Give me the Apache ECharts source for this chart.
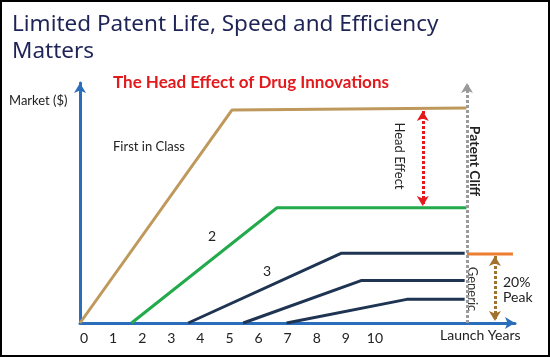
<!DOCTYPE html>
<html>
<head>
<meta charset="utf-8">
<script src="https://cdn.jsdelivr.net/npm/echarts@6/dist/echarts.min.js"></script>
<style>
html,body{margin:0;padding:0;background:#fff;}
#chart{width:550px;height:357px;}
</style>
</head>
<body>
<div id="chart"></div>
<script>
// ---- data (launch year, market index) ----
const xTickLabels = [0, 1, 2, 3, 4, 5, 6, 7, 8, 9, 10];
const firstInClass = [[0, 0], [5.22, 100], [13.28, 101]];
const secondEntrant = [[1.77, 0], [6.77, 54.1], [13.28, 54.1]];
const thirdEntrant = [[3.72, 0], [8.97, 32.7], [13.22, 32.7]];
const fourthEntrant = [[5.61, 0], [9.66, 19.9], [13.22, 19.9]];
const fifthEntrant = [[7.10, 0], [11.23, 11.1], [13.22, 11.1]];
const genericPeak = [[13.3, 32.4], [14.88, 32.4]];
const patentCliff = [[13.3, 0], [13.3, 112.7]];
const headEffect = [[11.78, 99.5], [11.78, 54.9]];
const peakDrop = [[14.26, 31.5], [14.26, 0.9]];

const FONT = 'Lato, "Noto Sans", sans-serif';
const chart = echarts.init(document.getElementById('chart'), null, {renderer: 'canvas'});

function lineSeries(data, color) {
  return {
    type: 'line', data: data, showSymbol: false, symbol: 'none',
    lineStyle: {color: color, width: 3}, silent: true, animation: false, z: 3
  };
}
function arrowSeries(pts, color, syms, dash, z) {
  return {
    type: 'line', data: [], silent: true, animation: false, z: z || 2,
    markLine: {
      silent: true, animation: false, symbol: syms, symbolSize: [9, 10],
      label: {show: false}, clip: false,
      lineStyle: {color: color, width: 3, type: dash},
      emphasis: {disabled: true},
      data: [[{coord: pts[0]}, {coord: pts[1]}]]
    }
  };
}
function txt(text, x, y, opts) {
  return Object.assign({
    type: 'text', x: x, y: y, silent: true,
    style: Object.assign({text: text, font: '13px ' + FONT, fill: '#222', textVerticalAlign: 'middle'}, (opts && opts.style) || {})
  }, (opts && opts.el) || {});
}

chart.setOption({
  backgroundColor: '#fff',
  animation: false,
  title: [
    {
      text: 'Limited Patent Life, Speed and Efficiency\nMatters',
      left: 12, top: 11, padding: 0,
      textStyle: {fontFamily: '"Noto Sans", sans-serif', fontSize: 22.5, fontWeight: 'normal', color: '#1F2456', lineHeight: 27}
    },
    {
      text: 'The Head Effect of Drug Innovations',
      left: 113, top: 74, padding: 0,
      textStyle: {fontFamily: FONT, fontSize: 17, fontWeight: 'bold', color: '#E3191C'}
    }
  ],
  grid: {left: 80, right: 35, top: 83, bottom: 34, outerBoundsMode: 'none'},
  xAxis: {
    type: 'value', min: 0, max: 14.95,
    axisLine: {show: true, symbol: ['none', 'arrow'], symbolSize: [9, 10], lineStyle: {color: '#2A6EBB', width: 3}},
    axisTick: {show: false}, splitLine: {show: false},
    axisLabel: {
      customValues: xTickLabels, margin: 8, color: '#222', fontFamily: FONT, fontSize: 14,
      padding: [0, 0, 0, 8]
    }
  },
  yAxis: {
    type: 'value', min: 0, max: 112.7,
    axisLine: {show: true, symbol: ['none', 'arrow'], symbolSize: [9, 10], lineStyle: {color: '#2A6EBB', width: 3}},
    axisTick: {show: false}, splitLine: {show: false}, axisLabel: {show: false}
  },
  series: [
    arrowSeries(patentCliff, '#9A9A9A', ['none', 'arrow'], [3, 2], 2),
    lineSeries(firstInClass, '#BF995B'),
    lineSeries(secondEntrant, '#22AA4B'),
    lineSeries(thirdEntrant, '#1E3452'),
    lineSeries(fourthEntrant, '#1E3452'),
    lineSeries(fifthEntrant, '#1E3452'),
    lineSeries(genericPeak, '#ED7D31'),
    arrowSeries(headEffect, '#E3191C', ['arrow', 'arrow'], [3, 2], 4),
    arrowSeries(peakDrop, '#A0722E', ['arrow', 'arrow'], [3, 2], 4)
  ],
  graphic: [
    {type: 'rect', silent: true, z: 100, shape: {x: 1, y: 1, width: 548, height: 355},
     style: {fill: 'none', stroke: '#000', lineWidth: 2}},
    txt('Market ($)', 9, 101),
    txt('First in Class', 113, 147),
    txt('2', 212, 236, {style: {textAlign: 'center', font: '14px ' + FONT}}),
    txt('3', 267, 271, {style: {textAlign: 'center', font: '14px ' + FONT}}),
    txt('Head Effect', 399, 156, {style: {textAlign: 'center'}, el: {rotation: -Math.PI / 2}}),
    txt('Patent Cliff', 475, 161, {style: {textAlign: 'center', font: 'bold 14px ' + FONT}, el: {rotation: -Math.PI / 2}}),
    txt('Generic', 472, 289, {style: {textAlign: 'center', fill: '#333'}, el: {rotation: -Math.PI / 2}}),
    txt('20%', 503, 282, {style: {font: '14px ' + FONT}}),
    txt('Peak', 503, 297, {style: {font: '14px ' + FONT}}),
    txt('Launch Years', 440, 335, {style: {font: '14px ' + FONT}})
  ]
});
</script>
</body>
</html>
